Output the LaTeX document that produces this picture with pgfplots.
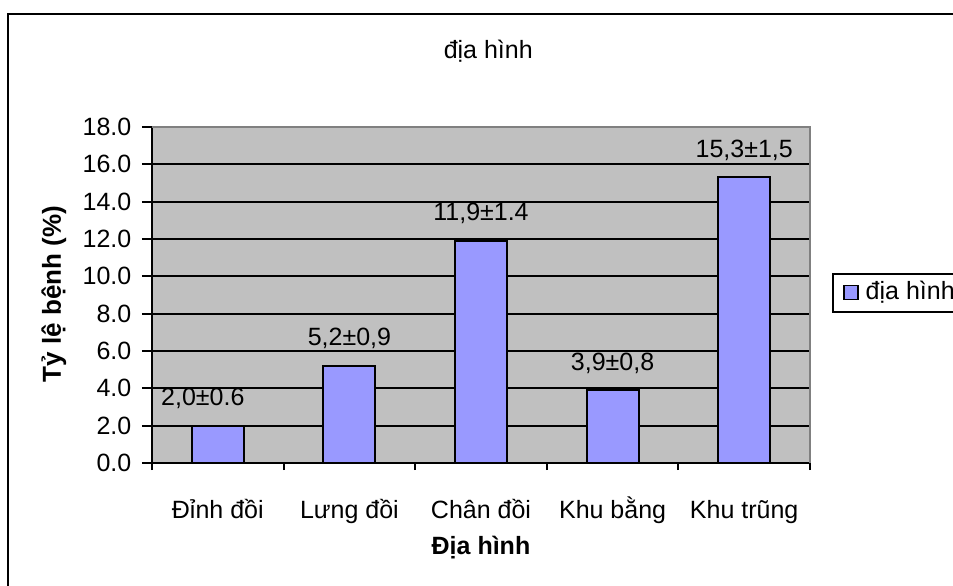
\documentclass[border=0pt]{standalone}
\usepackage{fontspec}
\setmainfont{Liberation Sans}
\usepackage{pgfplots}
\usepackage{pgfplotstable}
\pgfplotsset{compat=1.18}

\definecolor{barblue}{HTML}{9999FF}
\definecolor{plotgray}{HTML}{C0C0C0}
\definecolor{edgegray}{HTML}{808080}

% disease rate by terrain type, with its printed mean ± error
\pgfplotstableread{
x y dx label
0 2.0 -7.5 2,0±0.6
1 5.2 0 5,2±0,9
2 11.9 0 11,9±1.4
3 3.9 0 3,9±0,8
4 15.3 0 15,3±1,5
}\terrain

\begin{document}
\fontsize{12.5bp}{15bp}\selectfont
\begin{tikzpicture}
% chart frame
\draw[line width=1bp] (4bp,-7bp) rectangle (520bp,-330bp);
\begin{axis}[
  at={(76bp,-231.5bp)}, anchor=south west,
  scale only axis, width=329bp, height=168bp,
  xmin=-0.5, xmax=4.5, ymin=0, ymax=18,
  axis background/.style={fill=plotgray},
  axis x line*=bottom, axis y line*=left,
  axis line style={-, black, line width=1bp},
  xtick={0,...,4},
  xticklabels={Đỉnh đồi, Lưng đồi, Chân đồi, Khu bằng, Khu trũng},
  minor xtick={-0.5,0.5,1.5,2.5,3.5,4.5},
  major x tick style={draw=none},
  ytick={0,2,...,18},
  tick align=outside,
  major tick length=5bp, minor tick length=3.5bp,
  tick style={black, line width=1bp},
  xticklabel style={anchor=base, yshift=-22.5bp},
  yticklabel style={xshift=-1bp, /pgf/number format/.cd, fixed, fixed zerofill, precision=1, assume math mode=true},
  ymajorgrids,
  major grid style={black, line width=1bp},
  every axis title shift=0pt,
  title={địa hình},
  title style={at={(axis description cs:0.511,1.205)}, anchor=base},
  xlabel={\bfseries Địa hình},
  xlabel style={at={(axis description cs:0.5,-0.271)}, anchor=base},
  ylabel={\fontsize{13bp}{15bp}\selectfont\bfseries Tỷ lệ bệnh (\%)},
  ylabel style={at={(axis description cs:-0.149,0.503)}, anchor=center},
  legend style={at={(axis description cs:1.0334,0.507)}, anchor=west,
    draw=black, line width=1bp, fill=white,
    /tikz/every odd column/.append style={column sep=1.5bp}},
  legend image code/.code={
    \path (-2bp,0bp);
    \draw[fill=barblue, draw=black, line width=0.8bp] (0bp,-3.5bp) rectangle (7bp,3.5bp);},
  after end axis/.code={
    \draw[edgegray, line width=1bp] (rel axis cs:0,1) -- (rel axis cs:1,1) -- (rel axis cs:1,0);
  },
]
\addplot[ybar, bar width=26bp, fill=barblue, draw=black, line width=1bp,
  point meta=explicit symbolic,
  visualization depends on={\thisrow{dx} \as \labeldx},
  nodes near coords,
  every node near coord/.append style={anchor=base, yshift=10bp, xshift=\labeldx bp, black}]
  table[x=x, y=y, meta=label] {\terrain};
\addlegendentry{địa hình}
\end{axis}
\pgfresetboundingbox
\useasboundingbox (0,0) rectangle (476.5bp,-293bp);
\end{tikzpicture}
\end{document}
